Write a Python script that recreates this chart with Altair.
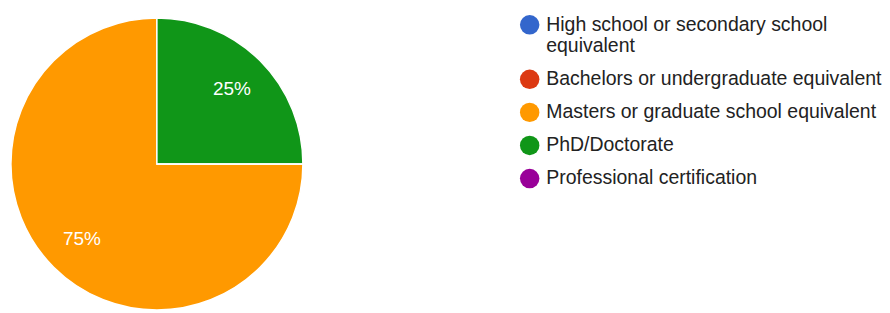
import math
import altair as alt
import pandas as pd

categories = [
    "High school or secondary school equivalent",
    "Bachelors or undergraduate equivalent",
    "Masters or graduate school equivalent",
    "PhD/Doctorate",
    "Professional certification",
]
counts = [0, 0, 3, 1, 0]
colors = ["#3366cc", "#dc3912", "#ff9900", "#109618", "#990099"]

total = sum(counts)
df = pd.DataFrame({
    "category": categories,
    "count": counts,
    "idx": list(range(len(categories))),
    "pct": [f"{round(100 * c / total)}%" for c in counts],
})

legend = alt.Legend(
    title=None,
    orient="none",
    legendX=508,
    legendY=-5,
    symbolType="circle",
    symbolSize=400,
    symbolStrokeWidth=0,
    labelFont="Liberation Sans",
    labelFontSize=20,
    labelColor="#222222",
    labelOffset=7,
    rowPadding=14,
    labelLimit=400,
    labelExpr="datum.label == 'High school or secondary school equivalent' ? ['High school or secondary school', 'equivalent'] : datum.label",
)

theta = alt.Theta("count:Q", stack=True,
                  scale=alt.Scale(range=[math.pi / 2, 2.5 * math.pi]))
color = alt.Color("category:N",
                  scale=alt.Scale(domain=categories, range=colors),
                  legend=legend)

base = alt.Chart(df).encode(theta=theta, order=alt.Order("idx:Q"))

pie = base.mark_arc(outerRadius=150, stroke="white", strokeWidth=1.5).encode(color=color)

labels = base.mark_text(radius=109, font="Liberation Sans", fontSize=19.5,
                        color="white").encode(text="pct:N").transform_filter("datum.count > 0")

chart = (pie + labels).properties(
    width=270, height=296, padding={"left": 0, "top": 3, "right": 0, "bottom": 0}
).configure_view(stroke=None)

chart.save("out.html", embed_options={"renderer": "svg", "actions": False})
